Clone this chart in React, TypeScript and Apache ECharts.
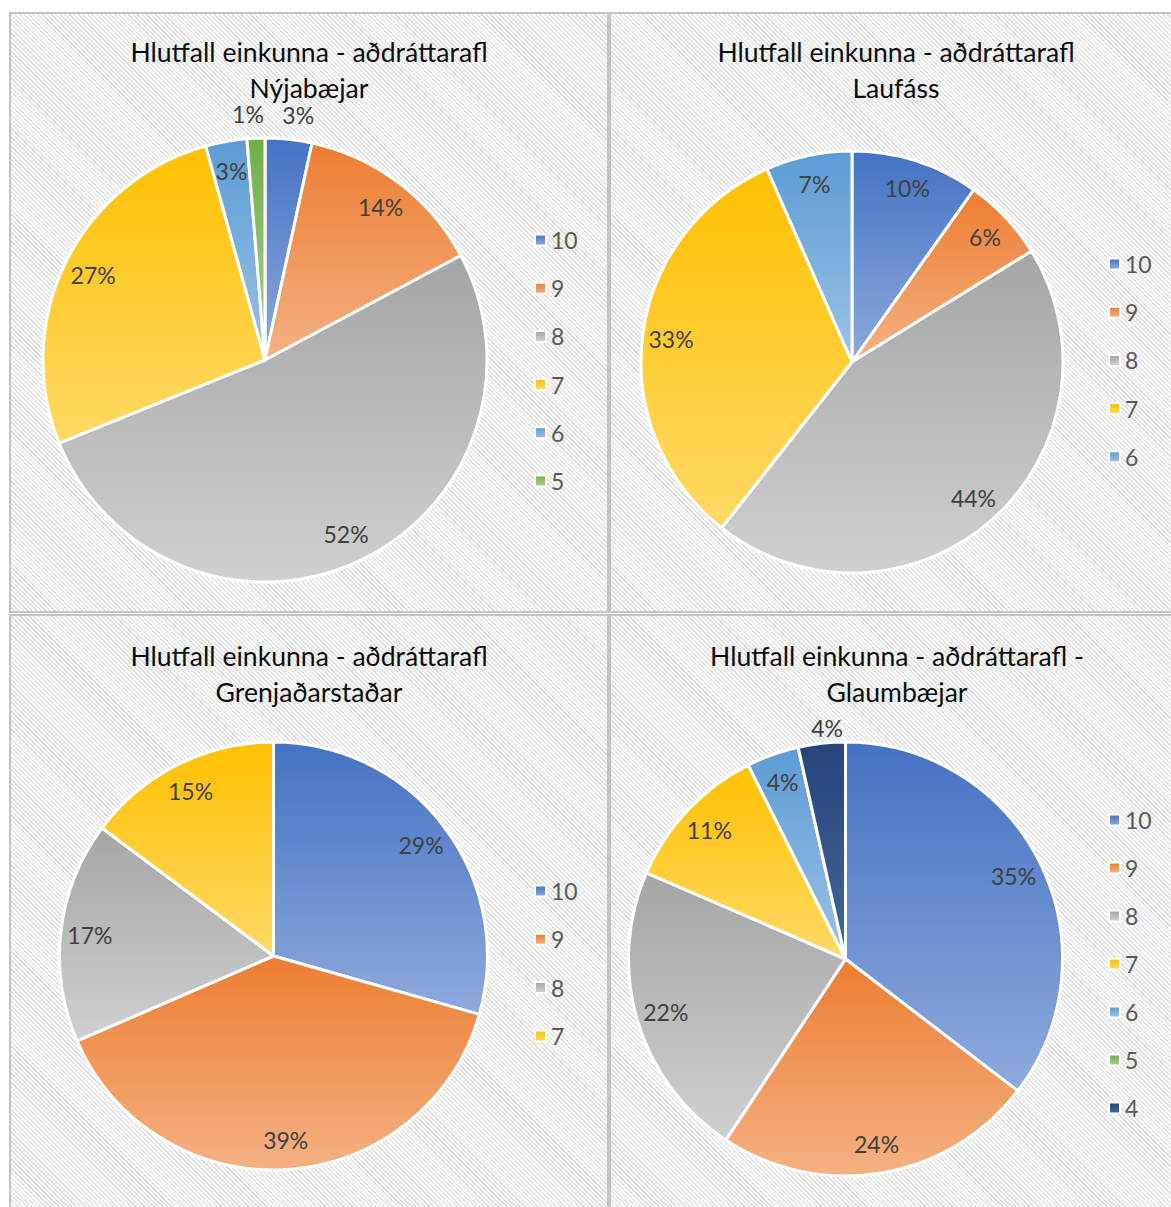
import React, { useEffect, useRef } from 'react';
import * as echarts from 'echarts';

const FONT = 'Lato, "Open Sans", sans-serif';

// grade categories and their Office-style colours (gradient top -> bottom)
const grades = ['10', '9', '8', '7', '6', '5', '4'];
const gradeTop = ['#4472C4', '#ED7D31', '#A5A5A5', '#FFC000', '#5B9BD5', '#70AD47', '#264478'];
const gradeBottom = ['#8FAADC', '#F4B183', '#D0D0D0', '#FFD966', '#9DC3E6', '#A9D18E', '#46669C'];

const titles = [
  'Hlutfall einkunna - aðdráttarafl\nNýjabæjar',
  'Hlutfall einkunna - aðdráttarafl\nLaufáss',
  'Hlutfall einkunna - aðdráttarafl\nGrenjaðarstaðar',
  'Hlutfall einkunna - aðdráttarafl -\nGlaumbæjar',
];

// Nýjabæjar (share of grades, %)
const cats1 = ['10', '9', '8', '7', '6', '5'];
const shares1 = [3.4, 13.8, 51.7, 26.8, 3.0, 1.3];
const outside1 = ['10', '5'];
// Laufáss
const cats2 = ['10', '9', '8', '7', '6'];
const shares2 = [9.8, 6.4, 44.4, 32.8, 6.6];
const outside2: string[] = [];
// Grenjaðarstaðar
const cats3 = ['10', '9', '8', '7'];
const shares3 = [29.4, 39.1, 16.7, 14.8];
const outside3: string[] = [];
// Glaumbæjar
const cats4 = ['10', '9', '8', '7', '6', '5', '4'];
const shares4 = [35.4, 23.9, 22.2, 11.1, 3.9, 0, 3.5];
const outside4 = ['4'];

const pies = [
  { cats: cats1, vals: shares1, outside: outside1 },
  { cats: cats2, vals: shares2, outside: outside2 },
  { cats: cats3, vals: shares3, outside: outside3 },
  { cats: cats4, vals: shares4, outside: outside4 },
];

// layout (pixels)
const layout = [
  { cx: 265, cy: 360, r: 222, tx: 309, ty: 34, lx: 534, ly: 228, gap: 24.2, out: 24, dist: 7 },
  { cx: 852, cy: 362, r: 211, tx: 896, ty: 34, lx: 1108, ly: 252, gap: 24.2, out: 20, dist: 0 },
  { cx: 273.5, cy: 956, r: 214, tx: 309, ty: 638, lx: 534, ly: 879, gap: 24.3, out: 20, dist: 0 },
  { cx: 845.5, cy: 959, r: 217, tx: 897, ty: 638, lx: 1108, ly: 808, gap: 24, out: 15, dist: -7 },
];

const panelBoxes = [
  { left: 9, top: 12 },
  { left: 609, top: 12 },
  { left: 9, top: 614 },
  { left: 609, top: 614 },
];

function gradFor(cat: string) {
  const i = grades.indexOf(cat);
  return new echarts.graphic.LinearGradient(0, 0, 0, 1, [
    { offset: 0, color: gradeTop[i] },
    { offset: 1, color: gradeBottom[i] },
  ]);
}

export default function App() {
  const ref = useRef<HTMLDivElement>(null);

  useEffect(() => {
    if (!ref.current) return;
    const chart = echarts.init(ref.current, undefined, { renderer: 'svg' });

    const mainSeries: any[] = pies.map((p, k) => ({
      type: 'pie',
      name: 'pie' + k,
      center: [layout[k].cx, layout[k].cy],
      radius: [0, layout[k].r],
      startAngle: 90,
      clockwise: true,
      silent: true,
      avoidLabelOverlap: false,
      label: { show: false },
      labelLine: { show: false },
      emphasis: { disabled: true },
      itemStyle: { borderColor: '#ffffff', borderWidth: 3 },
      data: p.cats.map((c, i) => ({ name: c, value: p.vals[i], itemStyle: { color: gradFor(c) } })),
    }));

    const labelSeries: any[] = pies.map((p, k) => ({
      type: 'pie',
      name: 'labels' + k,
      center: [layout[k].cx, layout[k].cy],
      radius: [layout[k].r * 0.7, layout[k].r],
      startAngle: 90,
      clockwise: true,
      silent: true,
      legendHoverLink: false,
      avoidLabelOverlap: false,
      percentPrecision: 0,
      emphasis: { disabled: true },
      itemStyle: { color: 'rgba(0,0,0,0)', borderWidth: 0 },
      label: {
        show: true,
        position: 'inside',
        formatter: '{d}%',
        fontFamily: FONT,
        fontSize: 23,
        color: '#404040',
      },
      labelLine: { show: false, length: layout[k].out, length2: 0 },
      labelLayout: { align: 'center' },
      data: p.cats.map((c, i) => {
        const isOut = p.outside.indexOf(c) >= 0;
        return {
          name: c,
          value: p.vals[i],
          label: {
            show: p.vals[i] > 0,
            position: isOut ? 'outside' : 'inside',
            distanceToLabelLine: layout[k].dist,
          },
        };
      }),
    }));

    const legends = pies.map((p, k) => ({
      orient: 'vertical',
      left: layout[k].lx,
      top: layout[k].ly,
      padding: 0,
      itemGap: layout[k].gap,
      itemWidth: 11,
      itemHeight: 11,
      icon: 'rect',
      selectedMode: false,
      itemStyle: { borderColor: '#ffffff', borderWidth: 2 },
      textStyle: { fontFamily: FONT, fontSize: 23, color: '#595959', lineHeight: 24 },
      data: p.cats,
    }));

    const graphics = titles.map((t, k) => ({
      type: 'text',
      x: layout[k].tx,
      y: layout[k].ty,
      silent: true,
      style: {
        text: t,
        align: 'center',
        verticalAlign: 'top',
        fontFamily: FONT,
        fontSize: 26.6,
        lineHeight: 36,
        fill: '#0d0d0d',
      },
    }));

    chart.setOption({
      animation: false,
      backgroundColor: 'transparent',
      legend: legends,
      graphic: graphics,
      series: [...mainSeries, ...labelSeries],
    });

    return () => chart.dispose();
  }, []);

  const hatch =
    'repeating-linear-gradient(45deg, #ffffff 0px, #ffffff 1.6px, #e2e2e2 1.6px, #e2e2e2 3.2px)';

  return (
    <div
      style={{
        position: 'absolute',
        left: 0,
        top: 0,
        width: 1171,
        height: 1207,
        overflow: 'hidden',
        background: '#ffffff',
      }}
    >
      {panelBoxes.map((b, i) => (
        <div
          key={i}
          style={{
            position: 'absolute',
            left: b.left,
            top: b.top,
            width: 600,
            height: i < 2 ? 601 : 650,
            boxSizing: 'border-box',
            border: '2px solid #c4c4c4',
            backgroundImage: hatch,
          }}
        />
      ))}
      <div ref={ref} style={{ position: 'absolute', left: 0, top: 0, width: 1171, height: 1207 }} />
    </div>
  );
}
